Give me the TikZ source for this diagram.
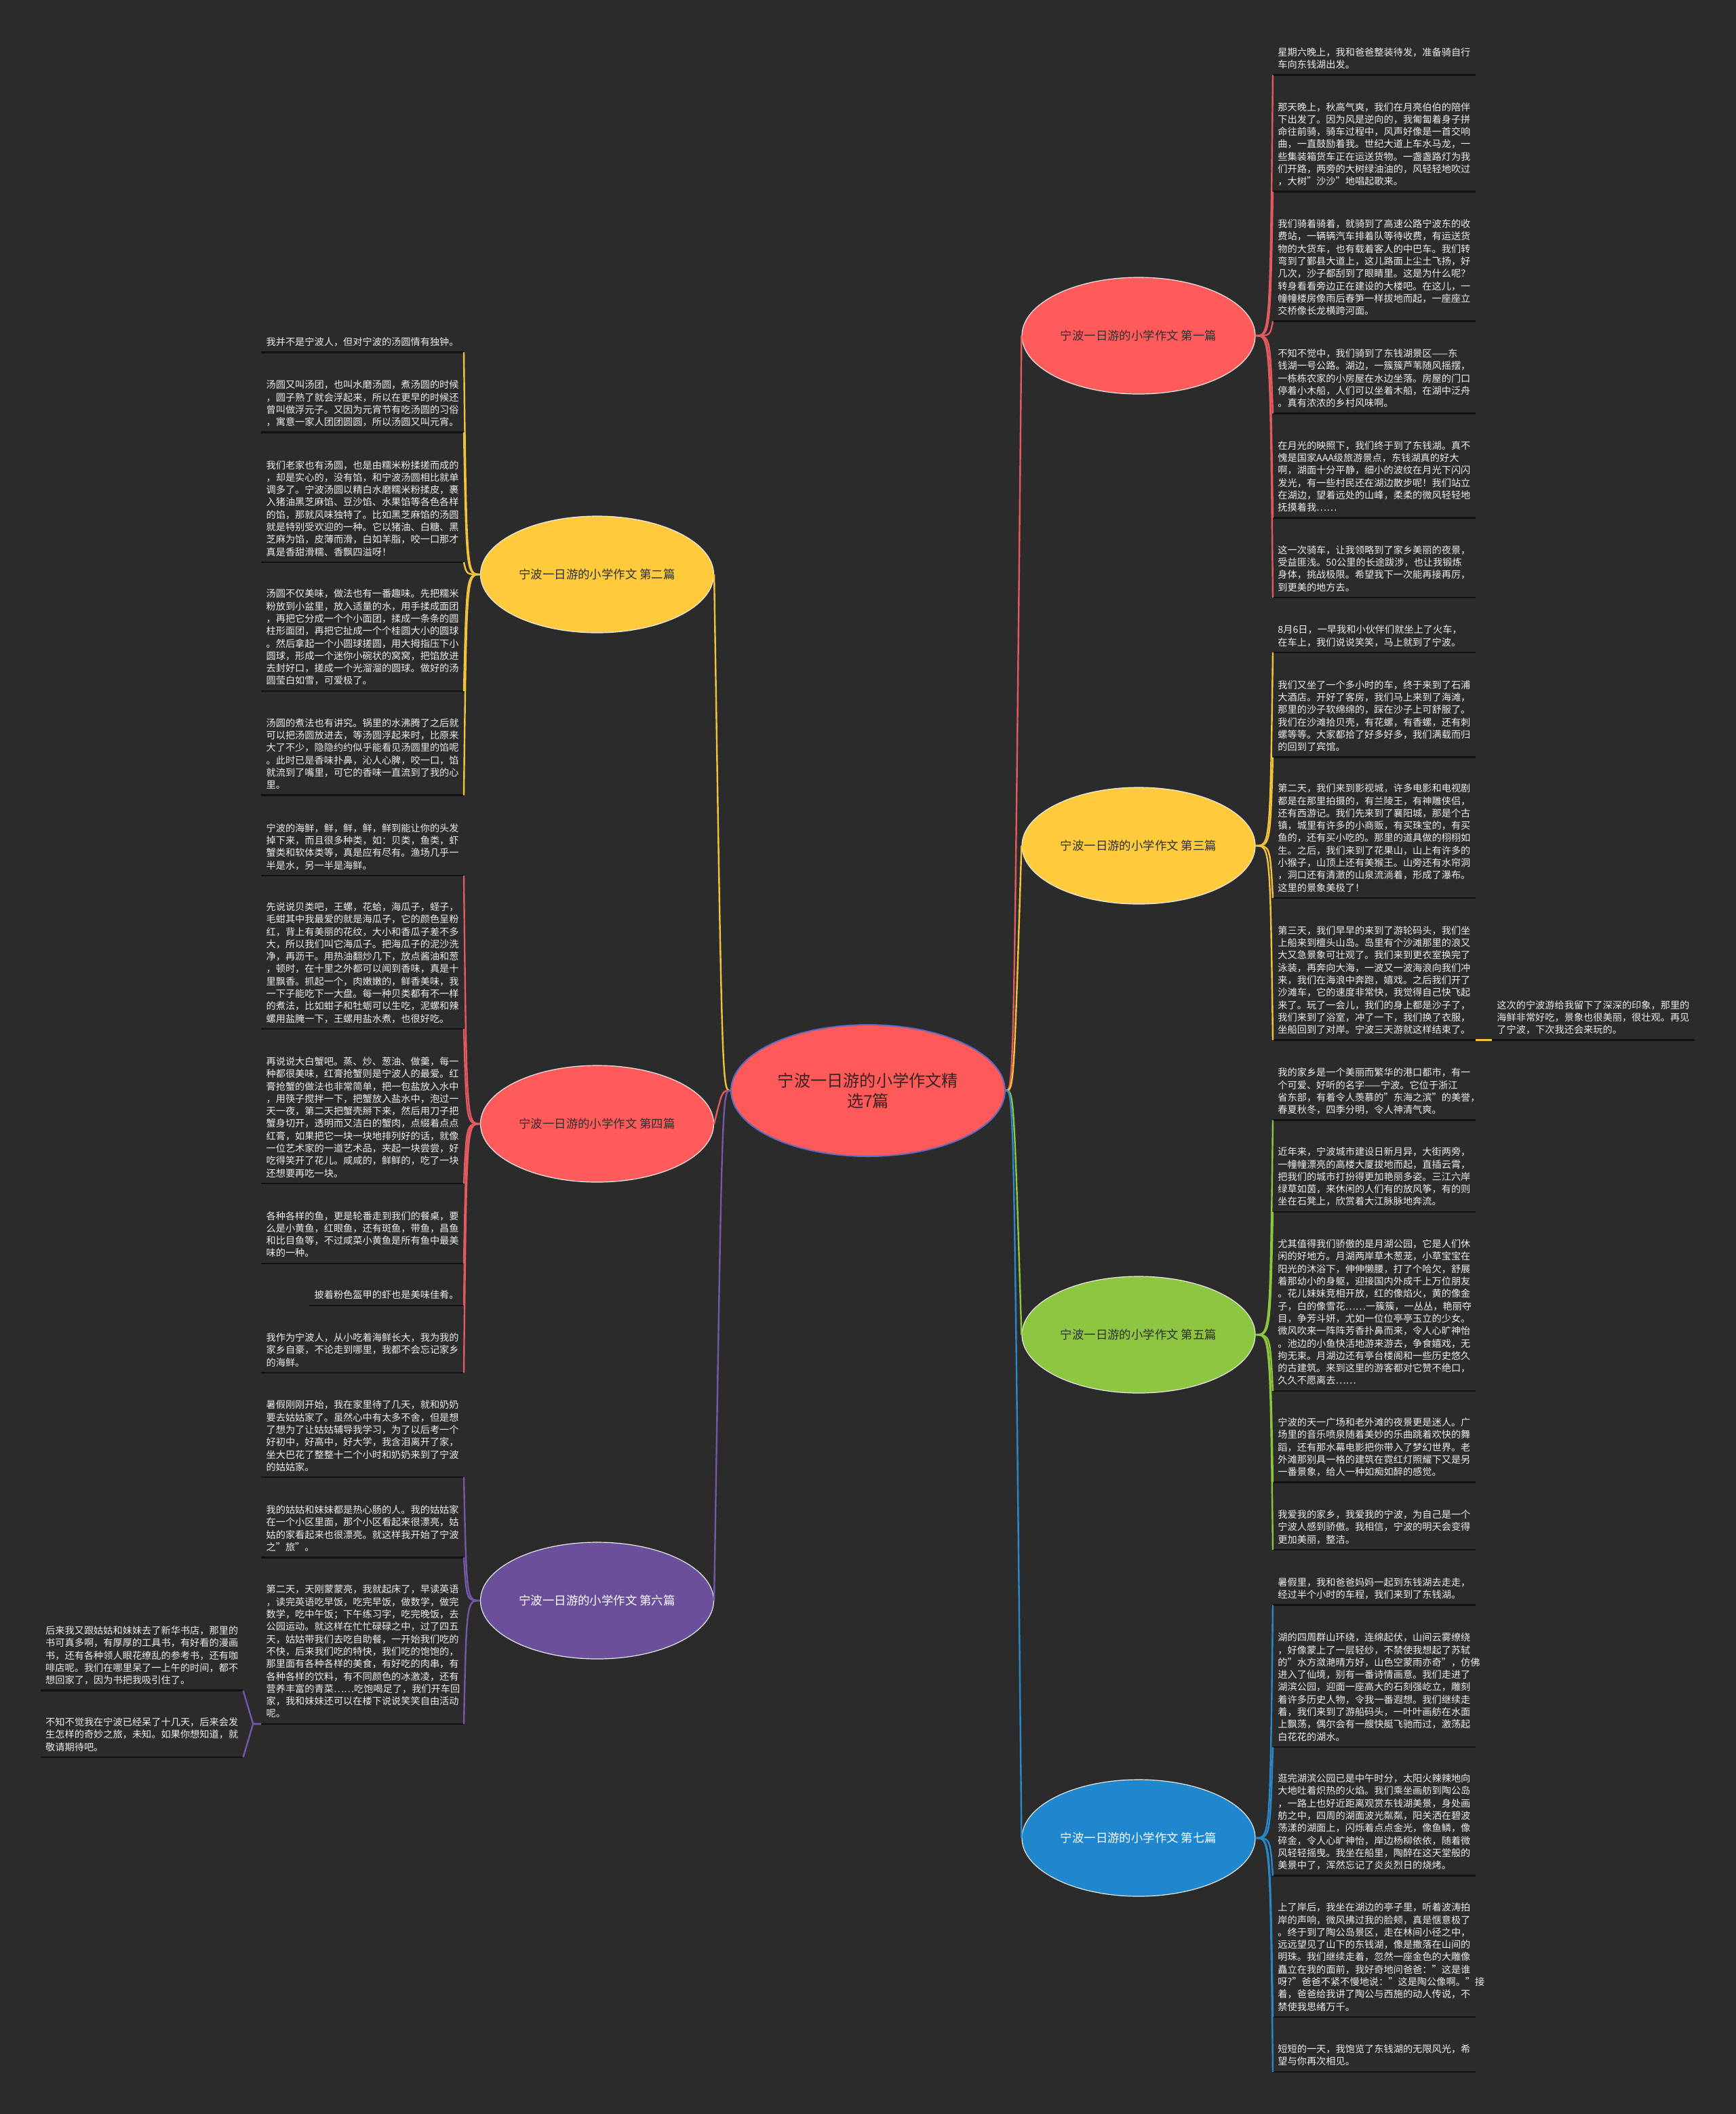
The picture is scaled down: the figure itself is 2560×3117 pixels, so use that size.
\documentclass[tikz,border=0pt]{standalone}
\usepackage{fontspec}
\setmainfont{Noto Sans CJK SC}
\usetikzlibrary{shapes.geometric}
\definecolor{bg}{HTML}{2B2B2B}
\definecolor{itemfg}{HTML}{EEEEEE}
\definecolor{ulinec}{HTML}{111111}
\definecolor{redA}{HTML}{FF5B5B}
\definecolor{redL}{HTML}{E25A5E}
\definecolor{yelA}{HTML}{FFCB3D}
\definecolor{yelL}{HTML}{F2C33A}
\definecolor{grnA}{HTML}{8DC641}
\definecolor{grnL}{HTML}{8CC63E}
\definecolor{bluA}{HTML}{1F87CD}
\definecolor{bluL}{HTML}{2A88C8}
\definecolor{purA}{HTML}{6B4F9B}
\definecolor{purL}{HTML}{7557A8}
\definecolor{cfill}{HTML}{FF5A5A}
\definecolor{cborder}{HTML}{5C6BC0}
\definecolor{ctext}{HTML}{3B2020}
\definecolor{ntext}{HTML}{2E2E2E}
\tikzset{
  itembase/.style={text=itemfg, font=\fontsize{7.1}{9.15}\selectfont, text width=142pt, align=left, inner xsep=3.5pt, inner ysep=2pt},
  itemR/.style={itembase, anchor=south west},
  itemL/.style={itembase, anchor=south east},
  itemshort/.style={text=itemfg, font=\fontsize{7.1}{9.15}\selectfont, inner xsep=3.5pt, inner ysep=2pt, anchor=south east},
  uline/.style={draw=ulinec, line width=1.25pt},
  branch/.style={ellipse, minimum width=172pt, minimum height=86pt, inner sep=0pt, draw=white!92!black, line width=0.6pt, font=\fontsize{8.7}{10}\selectfont, text=ntext},
  conn/.style={line width=1.2pt},
}
\begin{document}
\begin{tikzpicture}[x=0.5pt,y=-0.5pt]
\fill[bg] (0,0) rectangle (2560,3117);
\useasboundingbox (0,0) rectangle (2560,3117);

% center
\node[ellipse, minimum width=202pt, minimum height=97pt, fill=cfill, draw=cborder, line width=1pt, inner sep=0pt, align=center, font=\fontsize{12.1}{15}\selectfont, text=ctext] (c) at (1280,1608) {宁波一日游的小学作文精\\选7篇};

% branch nodes
\node[branch, fill=redA] (n1) at (1679,495) {宁波一日游的小学作文 第一篇};
\node[branch, fill=yelA] (n3) at (1679,1247) {宁波一日游的小学作文 第三篇};
\node[branch, fill=grnA] (n5) at (1679,1968) {宁波一日游的小学作文 第五篇};
\node[branch, fill=bluA, text=white] (n7) at (1679,2710) {宁波一日游的小学作文 第七篇};
\node[branch, fill=yelA] (n2) at (880.5,847) {宁波一日游的小学作文 第二篇};
\node[branch, fill=redA] (n4) at (880.5,1657) {宁波一日游的小学作文 第四篇};
\node[branch, fill=purA, text=white] (n6) at (880.5,2360) {宁波一日游的小学作文 第六篇};

% center connectors
\draw[conn, redL] (c.east) .. controls (1495,1608) .. (n1.west);
\draw[conn, yelL] (c.east) .. controls (1495,1608) .. (n3.west);
\draw[conn, grnL] (c.east) .. controls (1495,1608) .. (n5.west);
\draw[conn, bluL] (c.east) .. controls (1495,1608) .. (n7.west);
\draw[conn, yelL] (c.west) .. controls (1065,1608) .. (n2.east);
\draw[conn, redL] (c.west) .. controls (1065,1608) .. (n4.east);
\draw[conn, purL] (c.west) .. controls (1065,1608) .. (n6.east);

% ---------- right: 第一篇 ----------
\node[itemR] (r1a) at (1877,110.5) {星期六晚上，我和爸爸整装待发，准备骑自行\\车向东钱湖出发。\strut};
\node[itemR] (r1b) at (1877,282.7) {那天晚上，秋高气爽，我们在月亮伯伯的陪伴\\下出发了。因为风是逆向的，我匍匐着身子拼\\命往前骑，骑车过程中，风声好像是一首交响\\曲，一直鼓励着我。世纪大道上车水马龙，一\\些集装箱货车正在运送货物。一盏盏路灯为我\\们开路，两旁的大树绿油油的，风轻轻地吹过\\，大树"沙沙"地唱起歌来。\strut};
\node[itemR] (r1c) at (1877,473.6) {我们骑着骑着，就骑到了高速公路宁波东的收\\费站，一辆辆汽车排着队等待收费，有运送货\\物的大货车，也有载着客人的中巴车。我们转\\弯到了鄞县大道上，这儿路面上尘土飞扬，好\\几次，沙子都刮到了眼睛里。这是为什么呢？\\转身看看旁边正在建设的大楼吧。在这儿，一\\幢幢楼房像雨后春笋一样拔地而起，一座座立\\交桥像长龙横跨河面。\strut};
\node[itemR] (r1d) at (1877,609.5) {不知不觉中，我们骑到了东钱湖景区——东\\钱湖一号公路。湖边，一簇簇芦苇随风摇摆，\\一栋栋农家的小房屋在水边坐落。房屋的门口\\停着小木船，人们可以坐着木船，在湖中泛舟\\。真有浓浓的乡村风味啊。\strut};
\node[itemR] (r1e) at (1877,763.6) {在月光的映照下，我们终于到了东钱湖。真不\\愧是国家AAA级旅游景点，东钱湖真的好大\\啊，湖面十分平静，细小的波纹在月光下闪闪\\发光，有一些村民还在湖边散步呢！我们站立\\在湖边，望着远处的山峰，柔柔的微风轻轻地\\抚摸着我……\strut};
\node[itemR] (r1f) at (1877,881) {这一次骑车，让我领略到了家乡美丽的夜景，\\受益匪浅。50公里的长途跋涉，也让我锻炼\\身体，挑战极限。希望我下一次能再接再厉，\\到更美的地方去。\strut};

% ---------- right: 第三篇 ----------
\node[itemR] (r3a) at (1877,962) {8月6日，一早我和小伙伴们就坐上了火车，\\在车上，我们说说笑笑，马上就到了宁波。\strut};
\node[itemR] (r3b) at (1877,1116.5) {我们又坐了一个多小时的车，终于来到了石浦\\大酒店。开好了客房，我们马上来到了海滩，\\那里的沙子软绵绵的，踩在沙子上可舒服了。\\我们在沙滩拾贝壳，有花螺，有香螺，还有刺\\螺等等。大家都拾了好多好多，我们满载而归\\的回到了宾馆。\strut};
\node[itemR] (r3c) at (1877,1324) {第二天，我们来到影视城，许多电影和电视剧\\都是在那里拍摄的，有兰陵王，有神雕侠侣，\\还有西游记。我们先来到了襄阳城，那是个古\\镇，城里有许多的小商贩，有买珠宝的，有买\\鱼的，还有买小吃的。那里的道具做的栩栩如\\生。之后，我们来到了花果山，山上有许多的\\小猴子，山顶上还有美猴王。山旁还有水帘洞\\，洞口还有清澈的山泉流淌着，形成了瀑布。\\这里的景象美极了！\strut};
\node[itemR] (r3d) at (1877,1533.5) {第三天，我们早早的来到了游轮码头，我们坐\\上船来到檀头山岛。岛里有个沙滩那里的浪又\\大又急景象可壮观了。我们来到更衣室换完了\\泳装，再奔向大海，一波又一波海浪向我们冲\\来，我们在海浪中奔跑，嬉戏。之后我们开了\\沙滩车，它的速度非常快，我觉得自己快飞起\\来了。玩了一会儿，我们的身上都是沙子了，\\我们来到了浴室，冲了一下，我们换了衣服，\\坐船回到了对岸。宁波三天游就这样结束了。\strut};
\node[itemR] (fr) at (2200,1533.5) {这次的宁波游给我留下了深深的印象，那里的\\海鲜非常好吃，景象也很美丽，很壮观。再见\\了宁波，下次我还会来玩的。\strut};

% ---------- right: 第五篇 ----------
\node[itemR] (r5a) at (1877,1651.7) {我的家乡是一个美丽而繁华的港口都市，有一\\个可爱、好听的名字——宁波。它位于浙江\\省东部，有着令人羡慕的"东海之滨"的美誉，\\春夏秋冬，四季分明，令人神清气爽。\strut};
\node[itemR] (r5b) at (1877,1786.8) {近年来，宁波城市建设日新月异，大街两旁，\\一幢幢漂亮的高楼大厦拔地而起，直插云霄，\\把我们的城市打扮得更加艳丽多姿。三江六岸\\绿草如茵，来休闲的人们有的放风筝，有的则\\坐在石凳上，欣赏着大江脉脉地奔流。\strut};
\node[itemR] (r5c) at (1877,2050.8) {尤其值得我们骄傲的是月湖公园，它是人们休\\闲的好地方。月湖两岸草木葱茏，小草宝宝在\\阳光的沐浴下，伸伸懒腰，打了个哈欠，舒展\\着那幼小的身躯，迎接国内外成千上万位朋友\\。花儿妹妹竞相开放，红的像焰火，黄的像金\\子，白的像雪花……一簇簇，一丛丛，艳丽夺\\目，争芳斗妍，尤如一位位亭亭玉立的少女。\\微风吹来一阵阵芳香扑鼻而来，令人心旷神怡\\。池边的小鱼快活地游来游去，争食嬉戏，无\\拘无束。月湖边还有亭台楼阁和一些历史悠久\\的古建筑。来到这里的游客都对它赞不绝口，\\久久不愿离去……\strut};
\node[itemR] (r5d) at (1877,2185.5) {宁波的天一广场和老外滩的夜景更是迷人。广\\场里的音乐喷泉随着美妙的乐曲跳着欢快的舞\\蹈，还有那水幕电影把你带入了梦幻世界。老\\外滩那别具一格的建筑在霓红灯照耀下又是另\\一番景象，给人一种如痴如醉的感觉。\strut};
\node[itemR] (r5e) at (1877,2285) {我爱我的家乡，我爱我的宁波，为自己是一个\\宁波人感到骄傲。我相信，宁波的明天会变得\\更加美丽，整洁。\strut};

% ---------- right: 第七篇 ----------
\node[itemR] (r7a) at (1877,2366.5) {暑假里，我和爸爸妈妈一起到东钱湖去走走，\\经过半个小时的车程，我们来到了东钱湖。\strut};
\node[itemR] (r7b) at (1877,2576) {湖的四周群山环绕，连绵起伏，山间云雾缭绕\\，好像蒙上了一层轻纱，不禁使我想起了苏轼\\的"水方潋滟晴方好，山色空蒙雨亦奇"，仿佛\\进入了仙境，别有一番诗情画意。我们走进了\\湖滨公园，迎面一座高大的石刻强屹立，雕刻\\着许多历史人物，令我一番遐想。我们继续走\\着，我们来到了游船码头，一叶叶画舫在水面\\上飘荡，偶尔会有一艘快艇飞驰而过，激荡起\\白花花的湖水。\strut};
\node[itemR] (r7c) at (1877,2765.6) {逛完湖滨公园已是中午时分，太阳火辣辣地向\\大地吐着炽热的火焰。我们乘坐画舫到陶公岛\\，一路上也好近距离观赏东钱湖美景，身处画\\舫之中，四周的湖面波光粼粼，阳关洒在碧波\\荡漾的湖面上，闪烁着点点金光，像鱼鳞，像\\碎金，令人心旷神怡，岸边杨柳依依，随着微\\风轻轻摇曳。我坐在船里，陶醉在这天堂般的\\美景中了，浑然忘记了炎炎烈日的烧烤。\strut};
\node[itemR] (r7d) at (1877,2974) {上了岸后，我坐在湖边的亭子里，听着波涛拍\\岸的声响，微风拂过我的脸颊，真是惬意极了\\。终于到了陶公岛景区，走在林间小径之中，\\远远望见了山下的东钱湖，像是撒落在山间的\\明珠。我们继续走着，忽然一座金色的大雕像\\矗立在我的面前，我好奇地问爸爸："这是谁\\呀?"爸爸不紧不慢地说："这是陶公像啊。"接\\着，爸爸给我讲了陶公与西施的动人传说，不\\禁使我思绪万千。\strut};
\node[itemR] (r7e) at (1877,3054.8) {短短的一天，我饱览了东钱湖的无限风光，希\\望与你再次相见。\strut};

% ---------- left: 第二篇 ----------
\node[itemL] (l2a) at (684,519.4) {我并不是宁波人，但对宁波的汤圆情有独钟。\strut};
\node[itemL] (l2b) at (684,637.7) {汤圆又叫汤团，也叫水磨汤圆，煮汤圆的时候\\，圆子熟了就会浮起来，所以在更早的时候还\\曾叫做浮元子。又因为元宵节有吃汤圆的习俗\\，寓意一家人团团圆圆，所以汤圆又叫元宵。\strut};
\node[itemL] (l2c) at (684,829) {我们老家也有汤圆，也是由糯米粉揉搓而成的\\，却是实心的，没有馅，和宁波汤圆相比就单\\调多了。宁波汤圆以精白水磨糯米粉揉皮，裹\\入猪油黑芝麻馅、豆沙馅、水果馅等各色各样\\的馅，那就风味独特了。比如黑芝麻馅的汤圆\\就是特别受欢迎的一种。它以猪油、白糖、黑\\芝麻为馅，皮薄而滑，白如羊脂，咬一口那才\\真是香甜滑糯、香飘四溢呀！\strut};
\node[itemL] (l2d) at (684,1018.8) {汤圆不仅美味，做法也有一番趣味。先把糯米\\粉放到小盆里，放入适量的水，用手揉成面团\\，再把它分成一个个小面团，揉成一条条的圆\\柱形面团，再把它扯成一个个桂圆大小的圆球\\。然后拿起一个小圆球搓圆，用大拇指压下小\\圆球，形成一个迷你小碗状的窝窝，把馅放进\\去封好口，搓成一个光溜溜的圆球。做好的汤\\圆莹白如雪，可爱极了。\strut};
\node[itemL] (l2e) at (684,1172.6) {汤圆的煮法也有讲究。锅里的水沸腾了之后就\\可以把汤圆放进去，等汤圆浮起来时，比原来\\大了不少，隐隐约约似乎能看见汤圆里的馅呢\\。此时已是香味扑鼻，沁人心脾，咬一口，馅\\就流到了嘴里，可它的香味一直流到了我的心\\里。\strut};

% ---------- left: 第四篇 ----------
\node[itemL] (l4a) at (684,1291) {宁波的海鲜，鲜，鲜，鲜，鲜到能让你的头发\\掉下来，而且很多种类，如：贝类，鱼类，虾\\蟹类和软体类等，真是应有尽有。渔场几乎一\\半是水，另一半是海鲜。\strut};
\node[itemL] (l4b) at (684,1517) {先说说贝类吧，王螺，花蛤，海瓜子，蛏子，\\毛蚶其中我最爱的就是海瓜子，它的颜色呈粉\\红，背上有美丽的花纹，大小和香瓜子差不多\\大，所以我们叫它海瓜子。把海瓜子的泥沙洗\\净，再沥干。用热油翻炒几下，放点酱油和葱\\，顿时，在十里之外都可以闻到香味，真是十\\里飘香。抓起一个，肉嫩嫩的，鲜香美味，我\\一下子能吃下一大盘。每一种贝类都有不一样\\的煮法，比如蚶子和牡蛎可以生吃，泥螺和辣\\螺用盐腌一下，王螺用盐水煮，也很好吃。\strut};
\node[itemL] (l4c) at (684,1745) {再说说大白蟹吧。蒸、炒、葱油、做羹，每一\\种都很美味，红膏抢蟹则是宁波人的最爱。红\\膏抢蟹的做法也非常简单，把一包盐放入水中\\，用筷子搅拌一下，把蟹放入盐水中，泡过一\\天一夜，第二天把蟹壳掰下来，然后用刀子把\\蟹身切开，透明而又洁白的蟹肉，点缀着点点\\红膏，如果把它一块一块地排列好的话，就像\\一位艺术家的一道艺术品，夹起一块尝尝，好\\吃得笑开了花儿。咸咸的，鲜鲜的，吃了一块\\还想要再吃一块。\strut};
\node[itemL] (l4d) at (684,1862.8) {各种各样的鱼，更是轮番走到我们的餐桌，要\\么是小黄鱼，红眼鱼，还有斑鱼，带鱼，昌鱼\\和比目鱼等，不过咸菜小黄鱼是所有鱼中最美\\味的一种。\strut};
\node[itemshort] (l4e) at (684,1924.8) {披着粉色盔甲的虾也是美味佳肴。\strut};
\node[itemL] (l4f) at (684,2024) {我作为宁波人，从小吃着海鲜长大，我为我的\\家乡自豪，不论走到哪里，我都不会忘记家乡\\的海鲜。\strut};

% ---------- left: 第六篇 ----------
\node[itemL] (l6a) at (684,2178.2) {暑假刚刚开始，我在家里待了几天，就和奶奶\\要去姑姑家了。虽然心中有太多不舍，但是想\\了想为了让姑姑辅导我学习，为了以后考一个\\好初中，好高中，好大学，我含泪离开了家，\\坐大巴花了整整十二个小时和奶奶来到了宁波\\的姑姑家。\strut};
\node[itemL] (l6b) at (684,2296.4) {我的姑姑和妹妹都是热心肠的人。我的姑姑家\\在一个小区里面，那个小区看起来很漂亮，姑\\姑的家看起来也很漂亮。就这样我开始了宁波\\之"旅"。\strut};
\node[itemL] (l6c) at (684,2541.8) {第二天，天刚蒙蒙亮，我就起床了，早读英语\\，读完英语吃早饭，吃完早饭，做数学，做完\\数学，吃中午饭；下午练习字，吃完晚饭，去\\公园运动。就这样在忙忙碌碌之中，过了四五\\天，姑姑带我们去吃自助餐，一开始我们吃的\\不快，后来我们吃的特快，我们吃的饱饱的，\\那里面有各种各样的美食，有好吃的肉串，有\\各种各样的饮料，有不同颜色的冰激凌，还有\\营养丰富的青菜……吃饱喝足了，我们开车回\\家，我和妹妹还可以在楼下说说笑笑自由活动\\呢。\strut};
\node[itemL] (fl1) at (358.6,2492.7) {后来我又跟姑姑和妹妹去了新华书店，那里的\\书可真多啊，有厚厚的工具书，有好看的漫画\\书，还有各种领人眼花缭乱的参考书，还有咖\\啡店呢。我们在哪里呆了一上午的时间，都不\\想回家了，因为书把我吸引住了。\strut};
\node[itemL] (fl2) at (358.6,2591) {不知不觉我在宁波已经呆了十几天，后来会发\\生怎样的奇妙之旅，未知。如果你想知道，就\\敬请期待吧。\strut};

% underlines
\foreach \n in {r1a,r1b,r1c,r1d,r1e,r1f,r3a,r3b,r3c,r3d,fr,r5a,r5b,r5c,r5d,r5e,r7a,r7b,r7c,r7d,r7e,l2a,l2b,l2c,l2d,l2e,l4a,l4b,l4c,l4d,l4e,l4f,l6a,l6b,l6c,fl1,fl2}
  \draw[uline] (\n.south west) -- (\n.south east);

% branch -> item connectors
\foreach \n in {r1a,r1b,r1c,r1d,r1e,r1f}
  \draw[conn, redL] (n1.east) .. controls (1873,495) .. (\n.south west);
\foreach \n in {r3a,r3b,r3c,r3d}
  \draw[conn, yelL] (n3.east) .. controls (1873,1247) .. (\n.south west);
\foreach \n in {r5a,r5b,r5c,r5d,r5e}
  \draw[conn, grnL] (n5.east) .. controls (1873,1968) .. (\n.south west);
\foreach \n in {r7a,r7b,r7c,r7d,r7e}
  \draw[conn, bluL] (n7.east) .. controls (1873,2710) .. (\n.south west);
\foreach \n in {l2a,l2b,l2c,l2d,l2e}
  \draw[conn, yelL] (n2.west) .. controls (688,847) .. (\n.south east);
\foreach \n in {l4a,l4b,l4c,l4d,l4e,l4f}
  \draw[conn, redL] (n4.west) .. controls (688,1657) .. (\n.south east);
\foreach \n in {l6a,l6b,l6c}
  \draw[conn, purL] (n6.west) .. controls (688,2360) .. (\n.south east);
\draw[conn, yelL] (r3d.south east) -- (fr.south west);
\draw[conn, purL] (l6c.south west) -- ++(-12,0) -- (fl1.south east);
\draw[conn, purL] (l6c.south west) -- ++(-12,0) -- (fl2.south east);
\end{tikzpicture}
\end{document}
